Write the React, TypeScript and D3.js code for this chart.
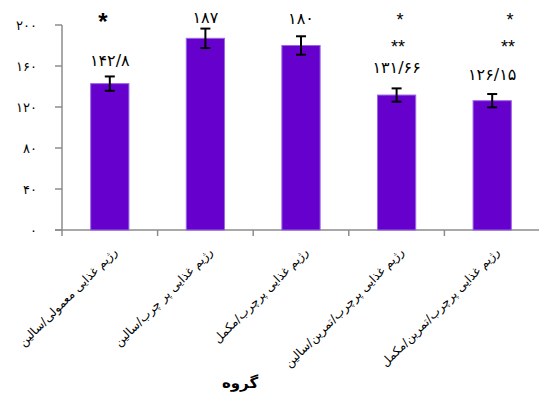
import React, { useEffect, useRef } from "react"
import * as d3 from "d3"

// گروه ها
const groups = [
  "رژیم غذایی معمولی/سالین",
  "رژیم غذایی پر چرب/سالین",
  "رژیم غذایی پرچرب/مکمل",
  "رژیم غذایی پرچرب/تمرین/سالین",
  "رژیم غذایی پرچرب/تمرین/مکمل",
]
const values = [142.8, 187, 180, 131.66, 126.15]
const errors = [7, 9.5, 9, 6.5, 6.5]
const valueLabels = ["۱۴۲/۸", "۱۸۷", "۱۸۰", "۱۳۱/۶۶", "۱۲۶/۱۵"]
const oneStar = ["*", "", "", "*", "*"]
const twoStars = ["", "", "", "**", "**"]
const yTicks = [0, 40, 80, 120, 160, 200]
const yTickLabels = ["۰", "۴۰", "۸۰", "۱۲۰", "۱۶۰", "۲۰۰"]

const W = 539
const H = 394

export default function App() {
  const ref = useRef<SVGSVGElement>(null)

  useEffect(() => {
    const svg = d3.select(ref.current)
    svg.selectAll("*").remove()

    const x = d3.scaleBand<string>().domain(groups).range([62, 540]).paddingInner(0.6).paddingOuter(0.3)
    const y = d3.scaleLinear().domain([0, 200]).range([230, 25])
    const font = "'DejaVu Sans', sans-serif"
    const axisColor = "#8c8c8c"

    // y axis
    svg.append("line").attr("x1", 62).attr("x2", 62).attr("y1", y(200)).attr("y2", y(0))
      .attr("stroke", axisColor).attr("stroke-width", 1.5)
    yTicks.forEach((t, i) => {
      svg.append("line").attr("x1", 55).attr("x2", 62).attr("y1", y(t)).attr("y2", y(t))
        .attr("stroke", axisColor).attr("stroke-width", 1.5)
      svg.append("text").attr("x", 37).attr("y", y(t)).attr("dy", "0.35em")
        .attr("text-anchor", "end").attr("font-family", font).attr("font-size", 13)
        .text(yTickLabels[i])
    })

    // x axis
    svg.append("line").attr("x1", 55).attr("x2", 540).attr("y1", y(0)).attr("y2", y(0))
      .attr("stroke", axisColor).attr("stroke-width", 1.5)
    const step = x.step()
    const x0 = 62
    d3.range(6).forEach(i => {
      svg.append("line").attr("x1", x0 + i * step).attr("x2", x0 + i * step)
        .attr("y1", y(0)).attr("y2", y(0) + 6).attr("stroke", axisColor).attr("stroke-width", 1.5)
    })

    // bars
    svg.selectAll("rect.bar").data(groups).join("rect").attr("class", "bar")
      .attr("x", d => x(d)!)
      .attr("width", x.bandwidth())
      .attr("y", (d, i) => y(values[i]))
      .attr("height", (d, i) => y(0) - y(values[i]))
      .attr("fill", "#6600cc")
      .attr("stroke", "#9a66e6")
      .attr("stroke-width", 1)

    // error bars
    groups.forEach((g, i) => {
      const cx = x(g)! + x.bandwidth() / 2
      const top = y(values[i] + errors[i])
      const bot = y(values[i] - errors[i])
      const e = svg.append("g").attr("stroke", "#000").attr("stroke-width", 2)
      e.append("line").attr("x1", cx).attr("x2", cx).attr("y1", top).attr("y2", bot)
      e.append("line").attr("x1", cx - 5).attr("x2", cx + 5).attr("y1", top).attr("y2", top)
      e.append("line").attr("x1", cx - 5).attr("x2", cx + 5).attr("y1", bot).attr("y2", bot)
    })

    // value labels
    const labelY = [60, 17, 18, 67, 74]
    groups.forEach((g, i) => {
      const cx = x(g)! + x.bandwidth() / 2
      svg.append("text").attr("x", cx).attr("y", labelY[i]).attr("dy", "0.35em")
        .attr("text-anchor", "middle").attr("font-family", font).attr("font-size", 16)
        .text(valueLabels[i])
    })

    // significance stars
    svg.append("text").attr("x", 103).attr("y", 30).attr("text-anchor", "middle")
      .attr("font-family", "'Liberation Sans', sans-serif").attr("font-size", 24).attr("font-weight", "bold")
      .text(oneStar[0])
    const starX = [0, 0, 0, 400, 510]
    ;[3, 4].forEach(i => {
      svg.append("text").attr("x", starX[i]).attr("y", 26).attr("text-anchor", "middle")
        .attr("font-family", "'Liberation Sans', sans-serif").attr("font-size", 18).text(oneStar[i])
      svg.append("text").attr("x", starX[i] - 2).attr("y", 53).attr("text-anchor", "middle")
        .attr("font-family", "'Liberation Sans', sans-serif").attr("font-size", 18).text(twoStars[i])
    })

    // x labels, rotated
    groups.forEach(g => {
      const cx = x(g)! + x.bandwidth() / 2 + 5
      svg.append("text").attr("transform", `translate(${cx},250) rotate(-45)`)
        .attr("text-anchor", "end").attr("dy", "0.35em")
        .attr("font-family", font).attr("font-size", 12)
        .text(g)
    })

    // axis title
    svg.append("text").attr("x", 240).attr("y", 388).attr("text-anchor", "middle")
      .attr("font-family", font).attr("font-size", 15).attr("font-weight", "bold")
      .text("گروه")
  }, [])

  return (
    <svg ref={ref} width={W} height={H} style={{ position: "absolute", left: 0, top: 0, background: "#fff" }} />
  )
}
